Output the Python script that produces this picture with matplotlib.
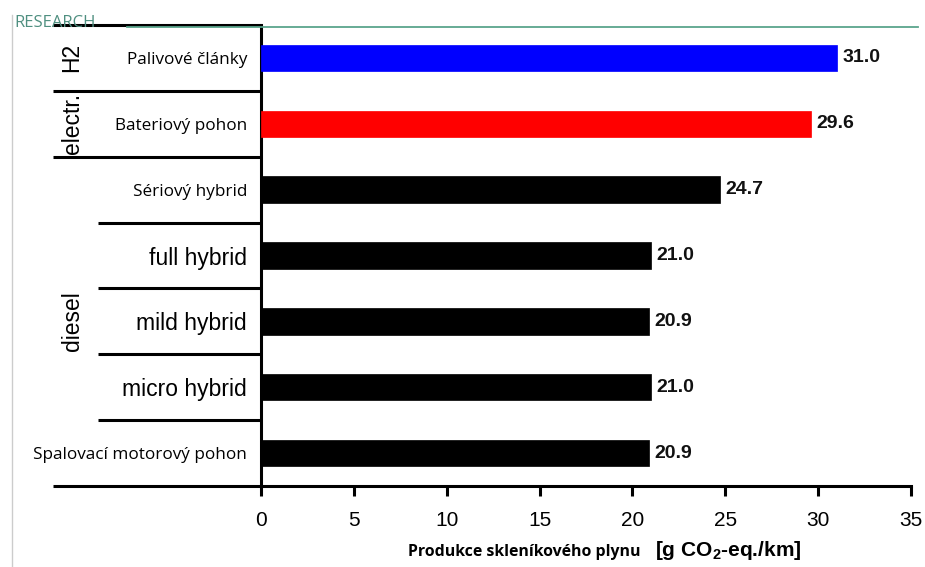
import matplotlib
matplotlib.use("Agg")
import matplotlib.pyplot as plt
import matplotlib.transforms as mtransforms
from matplotlib.lines import Line2D

# ---- data ----
categories = ["Palivové články", "Bateriový pohon", "Sériový hybrid",
              "full hybrid", "mild hybrid", "micro hybrid",
              "Spalovací motorový pohon"]
values = [31.0, 29.6, 24.7, 21.0, 20.9, 21.0, 20.9]
bar_colors = ["#0000ff", "#ff0000", "#000000", "#000000", "#000000", "#000000", "#000000"]
groups = ["H2", "electr.", "diesel"]
group_spans = [(0, 0), (1, 1), (2, 6)]
xticks = [0, 5, 10, 15, 20, 25, 30, 35]

plt.rcParams['mathtext.fontset'] = 'custom'
plt.rcParams['mathtext.rm'] = 'Liberation Sans:bold'
plt.rcParams['mathtext.it'] = 'Liberation Sans:bold'
plt.rcParams['mathtext.bf'] = 'Liberation Sans:bold'

W, H = 925, 567
fig = plt.figure(figsize=(W / 100, H / 100), dpi=100)
x0, x1 = 261, 911
y0, y1 = 25, 486
ax = fig.add_axes([x0 / W, 1 - y1 / H, (x1 - x0) / W, (y1 - y0) / H])

n = len(categories)
ypos = list(range(n))
ax.barh(ypos, values, height=0.4, color=bar_colors, edgecolor=bar_colors, linewidth=0.5, zorder=3)
ax.set_xlim(0, 35)
ax.set_ylim(n - 0.5, -0.5)

for y, v in zip(ypos, values):
    ax.text(v + 0.3, y, f"{v:.1f}", ha='left', va='center', fontsize=14,
            fontweight='bold', family='Liberation Sans', color='#111111')

# spines
for s in ['top', 'right']:
    ax.spines[s].set_visible(False)
ax.spines['left'].set_linewidth(2.2)
ax.spines['bottom'].set_linewidth(2.2)

ax.set_xticks(xticks)
ax.set_xticklabels([str(t) for t in xticks], family='Liberation Sans', fontsize=15)
ax.tick_params(axis='x', direction='out', length=7, width=2.2, pad=11, colors='black')

ax.set_yticks(ypos)
ax.set_yticklabels(categories)
ax.tick_params(axis='y', length=0, pad=10)
small_font = 'Open Sans'
for i, lab in enumerate(ax.get_yticklabels()):
    if categories[i] in ("full hybrid", "mild hybrid", "micro hybrid"):
        lab.set_family('Liberation Sans')
        lab.set_fontsize(16.5)
    else:
        lab.set_family(small_font)
        lab.set_fontsize(12.3)

# separator lines
trans = mtransforms.blended_transform_factory(ax.transAxes, ax.transData)
short_left = (53 - x0) / (x1 - x0)
long_left = (98 - x0) / (x1 - x0)
bounds = [b - 0.5 for b in range(n + 1)]
for b in bounds:
    if b in (-0.5, 0.5, 1.5, n - 0.5):
        xl = short_left
    else:
        xl = long_left
    ax.add_line(Line2D([xl, 0], [b, b], transform=trans, color='black', lw=2.2,
                       clip_on=False, solid_capstyle='butt', zorder=5))

# group labels
for g, (a, b) in zip(groups, group_spans):
    ax.text((72 - x0) / (x1 - x0), (a + b) / 2, g, transform=trans, rotation=90,
            ha='center', va='center', fontsize=16.5, family='Liberation Sans')

# decorations from page
fig.add_artist(Line2D([127 / W, 918 / W], [1 - 27 / H, 1 - 27 / H], color='#5aa58c', lw=1.3))
fig.add_artist(Line2D([12 / W, 12 / W], [1 - 15 / H, 0], color='#cccccc', lw=1))
fig.text(14 / W, 1 - 23 / H, "RESEARCH", color='#4f8f80', fontsize=12,
         family='Open Sans', ha='left', va='center', zorder=0)

# x label (two fonts)
fig.text(641 / W, 1 - 552 / H, "Produkce skleníkového plynu", ha='right', va='center',
         fontsize=11.4, fontweight='bold', family='Open Sans')
fig.text(655 / W, 1 - 551 / H, r"[g CO$_2$-eq./km]", ha='left', va='center',
         fontsize=15, fontweight='bold', family='Liberation Sans')

fig.savefig("out.png", dpi=100)
